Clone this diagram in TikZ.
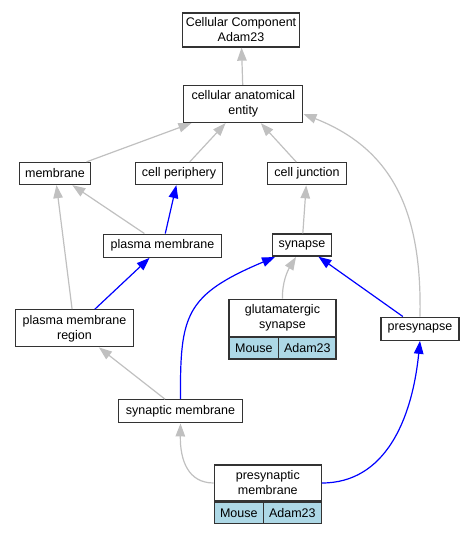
\documentclass[tikz,border=0pt]{standalone}
\usepackage{fontspec}
\setmainfont{Liberation Sans}
\usepackage{xcolor}
\usetikzlibrary{arrows.meta}
\definecolor{edgegray}{HTML}{C0C0C0}
\definecolor{cellblue}{HTML}{ADD8E6}
\tikzset{
  term/.style = {draw=black!80, line width=1.3pt, fill=white, inner sep=0pt,
    align=center, minimum height=22pt}
}
\tikzset{
  orgcell/.style = {term, fill=cellblue, minimum height=21.5pt}
}
\tikzset{
  isa/.style = {draw=edgegray, line width=1.2pt},
  partof/.style = {draw=blue, line width=1.2pt}
}
\tikzset{
  every node/.style = {font = \fontsize{12.5}{15}\selectfont},
  >={Triangle[length=13pt,width=9.5pt]}
}

\begin{document}
\begin{tikzpicture}[x=1pt, y=-1pt]
  \useasboundingbox (0,0) rectangle (475,533);

  \node[term, minimum width=117pt, minimum height=34pt] (cc) at (241,30)
    {Cellular Component\\Adam23};
  \node[term, minimum width=119pt, minimum height=37pt] (cae) at (243.3,104)
    {cellular anatomical\\entity};

  \node[term, minimum width=71pt] (membrane) at (55,173.5) {membrane};
  \node[term, minimum width=87pt] (cellper) at (179,173.5) {cell periphery};
  \node[term, minimum width=79pt] (celljunc) at (307,173.7) {cell junction};

  \node[term, minimum width=118pt, minimum height=23pt] (plasmamem) at (162.5,245.7) {plasma membrane};
  \node[term, minimum width=59pt] (synapse) at (302,245) {synapse};

  \node[term, minimum width=118pt, minimum height=37pt] (pmregion) at (74.5,328.3)
    {plasma membrane\\region};
  \node[term, minimum width=78pt, minimum height=23pt] (presyn) at (420,328.7) {presynapse};

  % glutamatergic synapse with its table
  \node[term, minimum width=107pt, minimum height=37pt] (glut) at (282.5,317.7)
    {glutamatergic\\synapse};
  \node[orgcell, minimum width=49.7pt, anchor=north west] (glutmouse) at (glut.south west) {Mouse};
  \node[orgcell, minimum width=57.3pt, anchor=north east] (glutgene) at (glut.south east) {Adam23};

  \node[term, minimum width=124pt, minimum height=23pt] (synmem) at (180.5,411.3) {synaptic membrane};

  % presynaptic membrane with its table
  \node[term, minimum width=107pt, minimum height=36pt] (premem) at (267.8,483)
    {presynaptic\\membrane};
  \node[orgcell, minimum width=49pt, anchor=north west] (premouse) at (premem.south west) {Mouse};
  \node[orgcell, minimum width=58pt, anchor=north east] (pregene) at (premem.south east) {Adam23};

  \draw[isa,->] (cae) -- (cc);
  \draw[isa,->] (membrane) -- (cae);
  \draw[isa,->] (cellper) -- (cae);
  \draw[isa,->] (celljunc) -- (cae);
  \draw[isa,->] (presyn.north) .. controls (422,215) and (395,150) .. (cae.east |- 0,114);

  \draw[isa,->] (plasmamem) -- (membrane);
  \draw[partof,->] (plasmamem) -- (cellper);
  \draw[isa,->] (pmregion) -- (membrane);
  \draw[partof,->] (pmregion) -- (plasmamem);

  \draw[isa,->] (synapse) -- (celljunc);
  \draw[isa,->] (glut.north) .. controls (282,282) and (288,270) .. (296,257);
  \draw[partof,->] (presyn) -- (synapse);
  \draw[partof,->] (synmem.north) .. controls (180,315) and (185,295) .. (275,257);

  \draw[isa,->] (synmem) -- (pmregion);
  \draw[isa,->] (premem.west) .. controls (188,483) and (180,460) .. (synmem.south);
  \draw[partof,->] (premem.east) .. controls (385,483) and (412,420) .. (presyn.south);
\end{tikzpicture}
\end{document}
